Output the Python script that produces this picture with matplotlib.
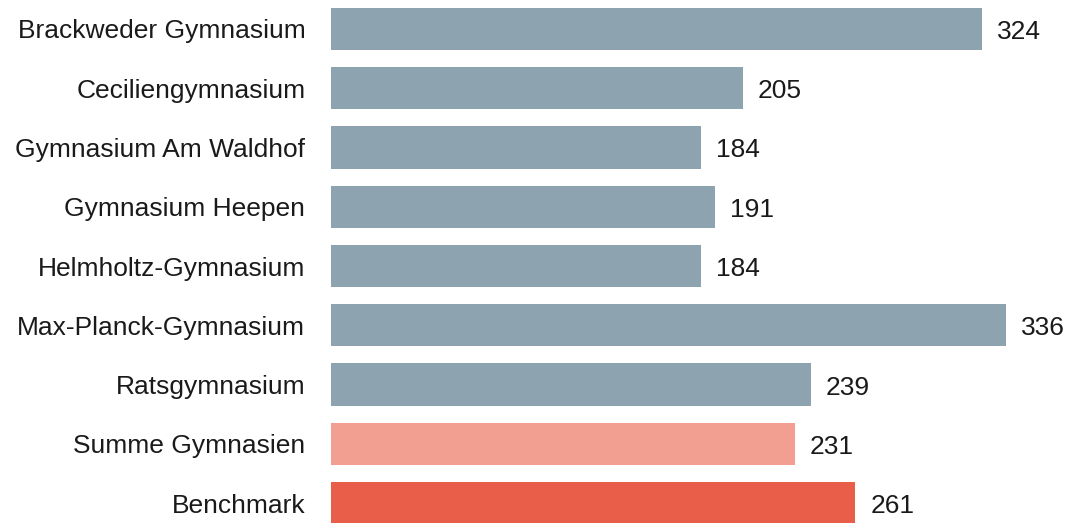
import matplotlib
matplotlib.use("Agg")
import matplotlib.pyplot as plt

categories = ["Brackweder Gymnasium", "Ceciliengymnasium", "Gymnasium Am Waldhof",
              "Gymnasium Heepen", "Helmholtz-Gymnasium", "Max-Planck-Gymnasium",
              "Ratsgymnasium", "Summe Gymnasien", "Benchmark"]
values = [324, 205, 184, 191, 184, 336, 239, 231, 261]
colors = ["#8DA3AF"] * 7 + ["#F29F91", "#E95E48"]

plt.rcParams['font.family'] = ['Liberation Sans', 'DejaVu Sans']

fig = plt.figure(figsize=(10.70, 5.23), dpi=100)
ax = fig.add_axes([331 / 1070, 0, 1 - 331 / 1070, 1])
y = list(range(len(categories)))
ax.barh(y, values, height=0.71, color=colors)
ax.set_xlim(0, 368)
ax.set_ylim(8.337, -0.489)
ax.set_yticks(y)
ax.set_yticklabels(categories, fontsize=19, color="#1a1a1a")
for lbl in ax.get_yticklabels():
    lbl.set_y(lbl.get_position()[1])
ax.tick_params(axis='y', length=0, pad=18.5)
ax.set_xticks([])
for s in ax.spines.values():
    s.set_visible(False)
for yi, v in zip(y, values):
    ax.annotate(str(v), (v, yi), xytext=(15, -3), textcoords="offset pixels",
                va="center", ha="left", fontsize=19, color="#1a1a1a")
fig.savefig("out.png", dpi=100)
